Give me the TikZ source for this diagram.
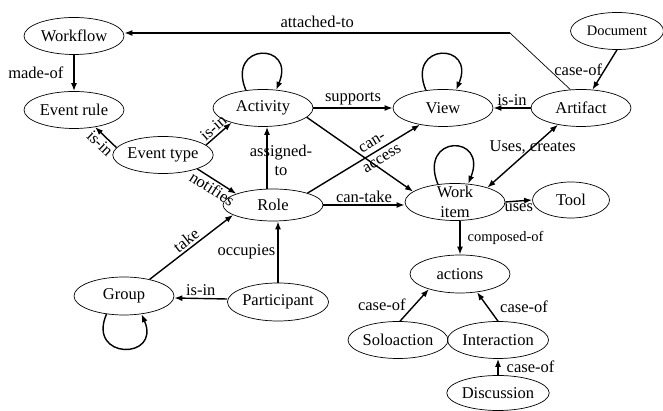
\documentclass[tikz,border=0pt]{standalone}
\usepackage{fontspec}
\setmainfont{LiberationSerif}[Extension=.ttf, UprightFont=*-Regular, BoldFont=*-Bold, ItalicFont=*-Italic]
\usetikzlibrary{arrows.meta,shapes,positioning}

\tikzset{
  entity/.style={ellipse, draw, line width=.7pt, minimum width=100pt, minimum height=37pt,
    inner sep=0pt, font=\rmfamily\fontsize{16.5}{19}\selectfont},
  rel/.style={->, line width=1.4pt},
  lbl/.style={font=\rmfamily\fontsize{16.5}{19}\selectfont, inner sep=2pt},
  smalllbl/.style={font=\rmfamily\fontsize{14.5}{17}\selectfont, inner sep=2pt},
  >={Latex[length=8pt,width=6pt]}
}

\begin{document}
\begin{tikzpicture}[x=1pt,y=1pt]
\useasboundingbox (0,0) rectangle (663,411);

% entities
\node[entity] (wf) at (74,375) {Workflow};
\node[entity] (er) at (74,301) {Event rule};
\node[entity] (act) at (263,303) {Activity};
\node[entity] (et) at (163,256) {Event type};
\node[entity] (view) at (443,303) {View};
\node[entity] (art) at (581,303) {Artifact};
\node[entity, minimum width=93pt, font=\rmfamily\fontsize{14.5}{17}\selectfont] (doc) at (617,380) {Document};
\node[entity, minimum height=32pt] (role) at (273,206) {Role};
\node[entity, label={[align=center, font=\rmfamily\fontsize{16.5}{20}\selectfont]center:Work\\item}] (wi) at (455,209) {};
\node[entity, minimum width=77pt, minimum height=36pt] (tool) at (571,211) {Tool};
\node[entity, minimum height=38pt] (acts) at (460,137) {actions};
\node[entity] (solo) at (398,71) {Soloaction};
\node[entity] (inter) at (498,71) {Interaction};
\node[entity, minimum height=35pt] (disc) at (498,18) {Discussion};
\node[entity, minimum height=38pt] (grp) at (124,115) {Group};
\node[entity, minimum height=38pt] (part) at (278,109) {Participant};

% attached-to
\coordinate (knee) at (510,378);
\draw[line width=.7pt] (art.120) -- (knee);
\draw[rel] (knee) -- (knee -| wf.east) node[lbl, midway, above=3pt] {attached-to};

% workflow side
\draw[rel] (wf) -- (er) node[lbl, midway, left=8pt] {made-of};
\draw[rel] (et.171) -- (er.-39) node[lbl, midway, sloped, below] {is-in};
\draw[rel] (et.13) -- (act.205) node[lbl, midway, sloped, above] {is-in};
\draw[rel] (et.-22) -- (role.163) node[lbl, midway, sloped, below] {notifies};

% role
\draw[rel] ([xshift=-6pt]role.north) -- ([xshift=4pt]act.south)
  node[lbl, pos=.45, xshift=14pt, align=center] {assigned-\\to};
\draw[rel] (role.19) -- (view.216) node[lbl, pos=.62, sloped, align=center] {can-\\access};
\draw[rel] (role.east) -- (role.east -| wi.west) node[lbl, midway, above] {can-take};
\draw[rel] (grp.33) -- (role.194) node[lbl, midway, sloped, above] {take};
\draw[rel] (part.north) -- (part.north |- role.south) node[lbl, midway, left=0pt] {occupies};
\draw[rel] ([yshift=3pt]part.west) -- ([yshift=-2pt]grp.east) node[lbl, midway, above] {is-in};

% activity, view, artifact
\draw[rel] (act) -- (view) node[lbl, midway, above] {supports};
\draw[rel] (act.-12) -- (wi.166);
\draw[rel] (art) -- (view) node[lbl, midway, above] {is-in};
\draw[rel] (doc.south) -- (art.58) node[lbl, midway, left=0pt] {case-of};
\draw[<->, line width=1.4pt] (art.216) -- (wi.24)
  node[lbl, midway, xshift=10pt, yshift=9pt] {Uses, creates};

% work item
\draw[rel] (wi.east) -- (tool.west) node[lbl, midway, below=0pt] {uses};
\draw[rel] ([xshift=5pt]wi.south) -- (acts.north) node[smalllbl, midway, right=5pt] {composed-of};
\draw[rel] (solo.84) -- (acts.206) node[lbl, midway, left=6pt] {case-of};
\draw[rel] (inter.north) -- (acts.-47) node[lbl, midway, right=10pt] {case-of};
\draw[rel] (disc) -- (inter) node[lbl, midway, right=6pt] {case-of};

% self loops
\draw[rel] (act.134) .. controls +(-20,48) and +(20,48) .. (act.54);
\draw[rel] (view.134) .. controls +(-20,48) and +(20,48) .. (view.54);
\draw[rel] (wi.134) .. controls +(-20,50) and +(20,50) .. (wi.54);
\draw[rel] (grp.226) .. controls +(-20,-46) and +(20,-46) .. (grp.314);

\end{tikzpicture}
\end{document}
